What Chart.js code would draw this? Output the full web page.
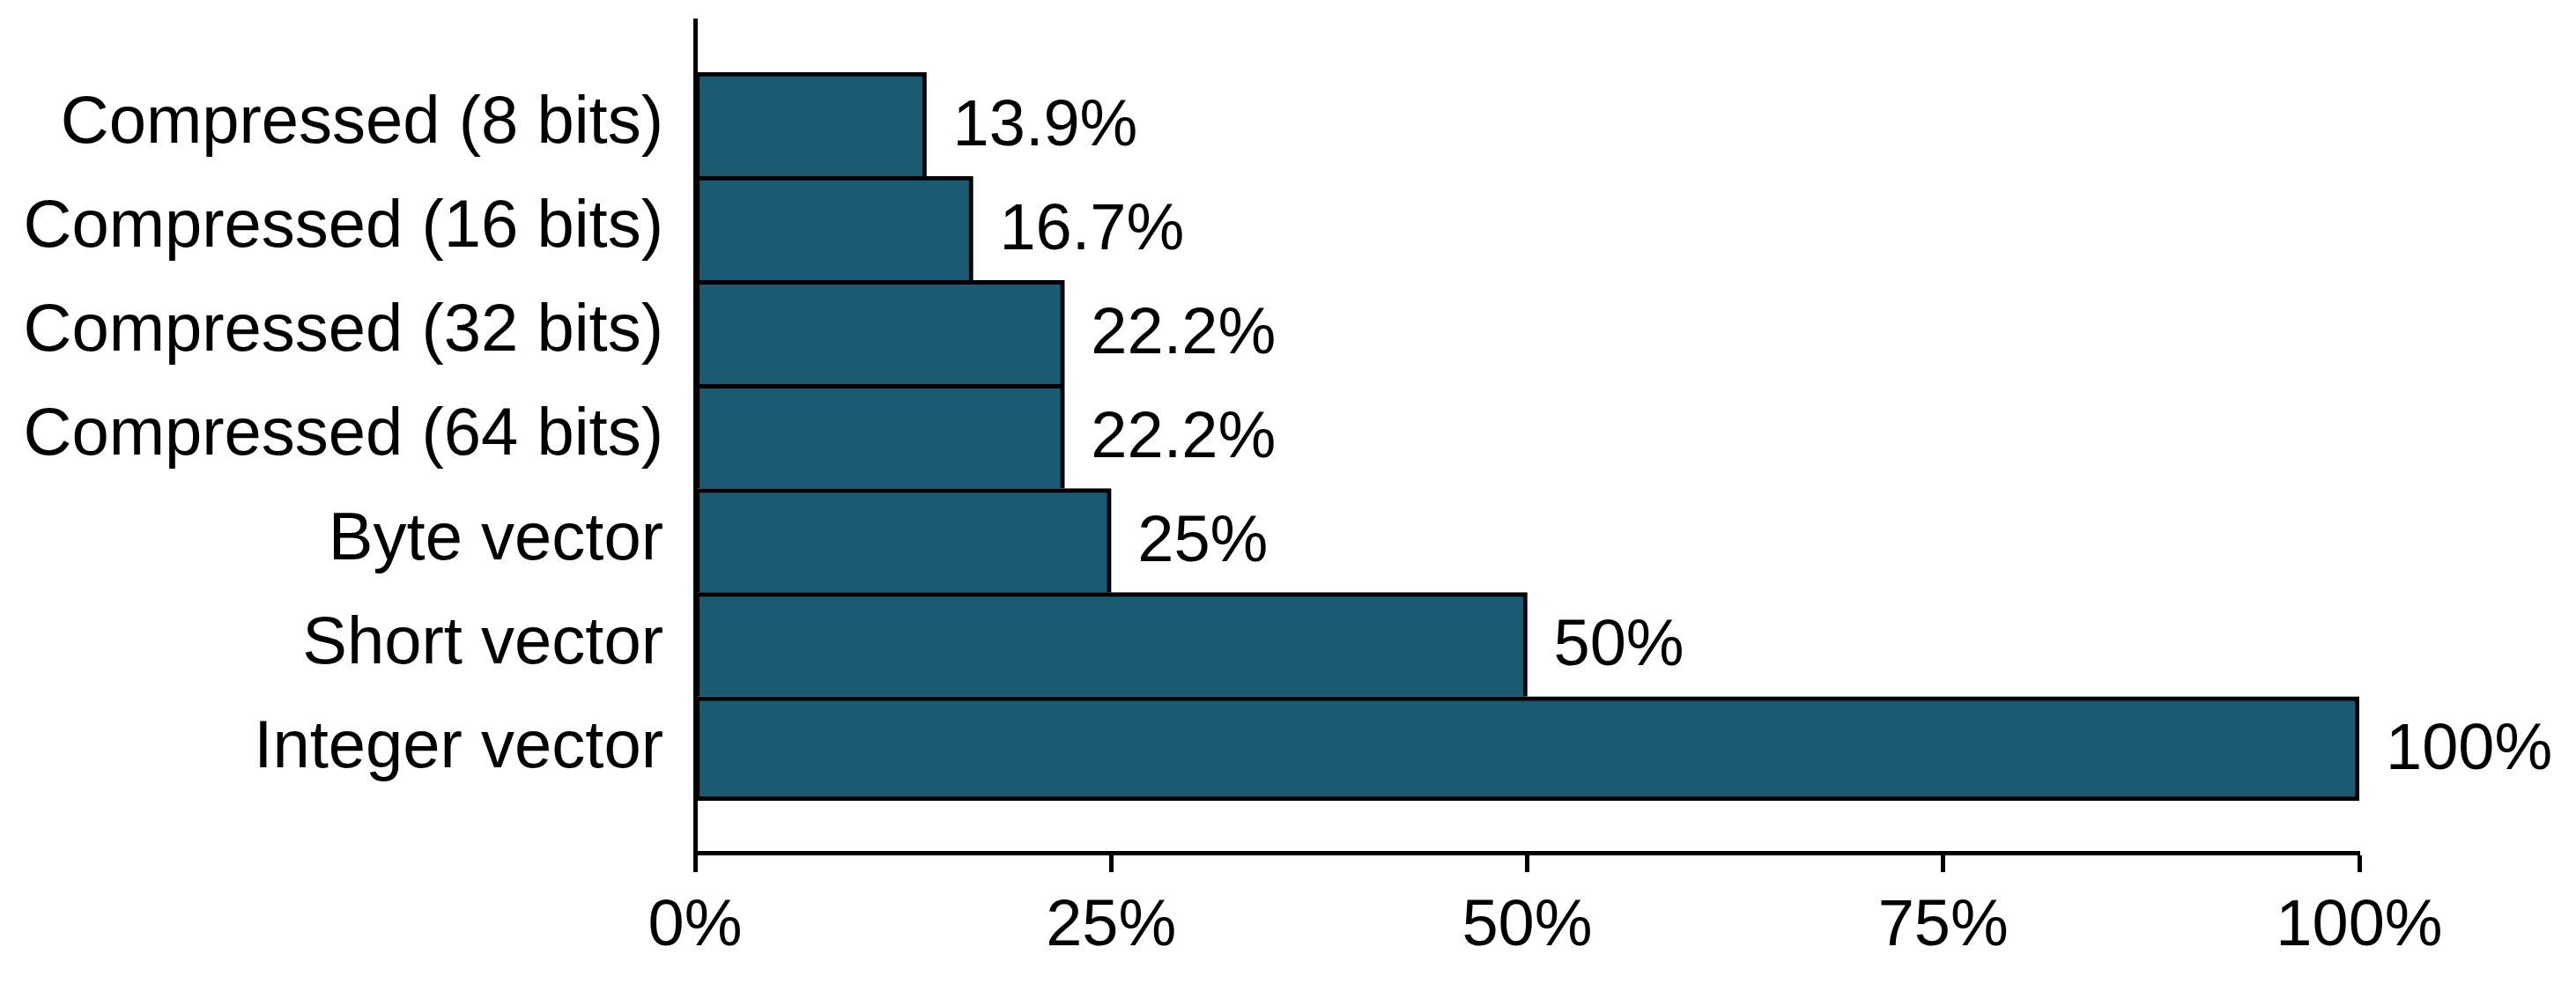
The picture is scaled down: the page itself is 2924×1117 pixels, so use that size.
<!DOCTYPE html>
<html>
<head>
<meta charset="utf-8">
<script src="https://cdn.jsdelivr.net/npm/chart.js@4.4.0/dist/chart.umd.min.js"></script>
<style>
  html, body { margin: 0; padding: 0; background: #fff; }
  canvas { display: block; }
</style>
</head>
<body>
<canvas id="sizeChart" width="2924" height="1117"></canvas>
<script>
// top to bottom
const categories = [
  'Compressed (8 bits)',
  'Compressed (16 bits)',
  'Compressed (32 bits)',
  'Compressed (64 bits)',
  'Byte vector',
  'Short vector',
  'Integer vector'
];
const values = [13.9, 16.7, 22.2, 22.2, 25, 50, 100];
const valueTexts = ['13.9%', '16.7%', '22.2%', '22.2%', '25%', '50%', '100%'];
const xTicks = [0, 25, 50, 75, 100];

const LABEL_FONT = '"Liberation Sans", Arial, sans-serif';

// bar value text to the right of each bar
const barValues = {
  id: 'barValues',
  afterDatasetsDraw(chart) {
    const ctx = chart.ctx;
    const meta = chart.getDatasetMeta(0);
    ctx.save();
    ctx.font = '74px ' + LABEL_FONT;
    ctx.fillStyle = '#000';
    ctx.textAlign = 'left';
    ctx.textBaseline = 'middle';
    meta.data.forEach((bar, i) => {
      ctx.fillText(valueTexts[i], bar.x + 30, bar.y + 3);
    });
    ctx.restore();
  }
};

const ctx = document.getElementById('sizeChart').getContext('2d');
const lastIdx = categories.length - 1;

new Chart(ctx, {
  type: 'bar',
  data: {
    datasets: [{
      data: categories.map((c, i) => ({ x: values[i], y: i + 1 })),
      backgroundColor: '#1b5a73',
      borderColor: '#000',
      borderWidth: (c) => ({ top: 5, left: 5, right: 5, bottom: c.dataIndex === lastIdx ? 5 : 0 }),
      borderSkipped: false,
      barPercentage: 1,
      categoryPercentage: 1
    }]
  },
  plugins: [barValues],
  options: {
    indexAxis: 'y',
    responsive: false,
    animation: false,
    layout: { padding: { top: 23, right: 246, left: 0, bottom: 0 } },
    plugins: {
      legend: { display: false },
      tooltip: { enabled: false }
    },
    scales: {
      x: {
        type: 'linear',
        min: 0,
        max: 100,
        afterBuildTicks: (scale) => { scale.ticks = xTicks.map(v => ({ value: v })); },
        afterFit: (scale) => { scale.height = 149; scale.paddingLeft = 0; scale.paddingRight = 0; },
        border: { display: true, color: '#000', width: 5 },
        grid: {
          drawOnChartArea: false,
          drawTicks: true,
          tickLength: 22,
          tickWidth: 5,
          tickColor: '#000'
        },
        ticks: {
          color: '#000',
          padding: 18,
          maxRotation: 0,
          font: { family: LABEL_FONT, size: 74 },
          callback: (v) => v + '%'
        }
      },
      y: {
        type: 'linear',
        reverse: true,
        min: 0,
        max: categories.length + 1,
        offset: false,
        afterBuildTicks: (scale) => { scale.ticks = categories.map((c, i) => ({ value: i + 1 })); },
        afterFit: (scale) => { scale.width = 789; scale.paddingTop = 0; scale.paddingBottom = 0; },
        border: { display: true, color: '#000', width: 5 },
        grid: { display: false, drawTicks: false, offset: false },
        ticks: {
          color: '#000',
          padding: 36,
          autoSkip: false,
          font: { family: LABEL_FONT, size: 76 },
          callback: (v) => categories[v - 1] || ''
        }
      }
    }
  }
});
</script>
</body>
</html>
